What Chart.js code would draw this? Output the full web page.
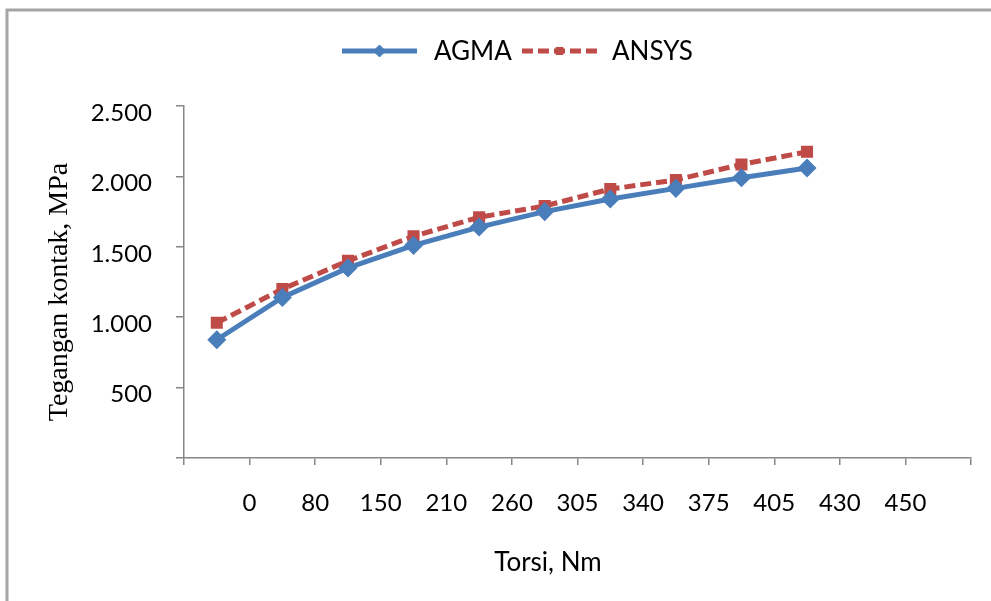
<!DOCTYPE html>
<html>
<head>
<meta charset="utf-8">
<script src="https://cdn.jsdelivr.net/npm/chart.js@4.4.0/dist/chart.umd.min.js"></script>
<style>
  html, body { margin: 0; padding: 0; background: #ffffff; }
  #wrap { position: relative; width: 991px; height: 601px; }
  canvas { display: block; }
</style>
</head>
<body>
<div id="wrap"><canvas id="c" width="991" height="601"></canvas></div>
<script>
// ---- data ----
const xTickLabels = ['0', '80', '150', '210', '260', '305', '340', '375', '405', '430', '450'];
const seriesNames = ['AGMA', 'ANSYS'];
const agma  = [840, 1140, 1350, 1510, 1640, 1750, 1840, 1915, 1990, 2060];
const ansys = [960, 1200, 1400, 1575, 1710, 1790, 1910, 1975, 2085, 2175];
const yTitle = 'Tegangan kontak, MPa';
const xTitle = 'Torsi, Nm';

function fmt(v) {
  if (v === 0) return '';
  if (v >= 1000) return Math.floor(v / 1000) + '.' + String(v % 1000).padStart(3, '0');
  return String(v);
}
const toPts = arr => arr.map((v, i) => ({ x: i + 0.5, y: v }));

const decor = {
  id: 'decor',
  beforeDraw(chart) {
    const ctx = chart.ctx;
    ctx.save();
    ctx.fillStyle = '#ffffff';
    ctx.fillRect(0, 0, chart.width, chart.height);
    ctx.strokeStyle = '#a6a6a6';
    ctx.lineWidth = 3;
    ctx.beginPath();
    ctx.moveTo(7, chart.height);
    ctx.lineTo(7, 10);
    ctx.lineTo(chart.width, 10);
    ctx.stroke();
    ctx.restore();
  },
  afterDraw(chart) {
    const ctx = chart.ctx;
    ctx.save();
    // legend
    const items = [
      { x0: 342, x1: 417, tx: 434 },
      { x0: 522, x1: 597, tx: 612 }
    ];
    const ly = 51;
    chart.data.datasets.forEach((ds, i) => {
      const it = items[i];
      ctx.save();
      ctx.strokeStyle = ds.borderColor;
      ctx.lineWidth = ds.borderWidth;
      ctx.setLineDash(ds.borderDash || []);
      ctx.beginPath();
      ctx.moveTo(it.x0, ly);
      ctx.lineTo(it.x1, ly);
      ctx.stroke();
      ctx.restore();
      ctx.save();
      ctx.fillStyle = ds.pointBackgroundColor;
      ctx.strokeStyle = ds.pointBorderColor;
      ctx.lineWidth = 1;
      Chart.helpers.drawPoint(ctx, { pointStyle: ds.pointStyle, radius: ds.pointRadius, borderWidth: 1, rotation: 0 }, (it.x0 + it.x1) / 2, ly);
      ctx.restore();
      ctx.fillStyle = '#000000';
      ctx.font = '26px Lato';
      ctx.textBaseline = 'middle';
      ctx.textAlign = 'left';
      ctx.fillText(ds.label, it.tx, ly + 1);
    });
    // axis titles
    ctx.fillStyle = '#000000';
    ctx.font = '26px Lato';
    ctx.textAlign = 'center';
    ctx.textBaseline = 'middle';
    ctx.fillText(chart.options.scales.x.title.text, 548, 563);
    ctx.save();
    ctx.translate(60, 292);
    ctx.rotate(-Math.PI / 2);
    ctx.font = '28px "Liberation Serif"';
    ctx.fillText(chart.options.scales.y.title.text, 0, 0);
    ctx.restore();
    ctx.restore();
  }
};

new Chart(document.getElementById('c'), {
  type: 'line',
  data: {
    datasets: [
      {
        label: seriesNames[0],
        data: toPts(agma),
        borderColor: '#4A7EBB',
        backgroundColor: '#4A7EBB',
        pointBackgroundColor: '#4A7EBB',
        pointBorderColor: '#4A7EBB',
        borderWidth: 5,
        pointStyle: 'rectRot',
        pointRadius: 6,
        tension: 0
      },
      {
        label: seriesNames[1],
        data: toPts(ansys),
        borderColor: '#BE4B48',
        backgroundColor: '#BE4B48',
        pointBackgroundColor: '#BE4B48',
        pointBorderColor: '#BE4B48',
        borderWidth: 5,
        borderDash: [11, 5],
        pointStyle: 'rect',
        pointRadius: 5,
        tension: 0
      }
    ]
  },
  options: {
    responsive: false,
    animation: false,
    layout: { padding: { top: 106, right: 20, bottom: 0, left: 0 } },
    plugins: { legend: { display: false }, tooltip: { enabled: false } },
    scales: {
      x: {
        type: 'linear',
        min: 0,
        max: 12,
        afterFit(s) { s.height = 143; s.paddingRight = 0; s.paddingLeft = 0; },
        afterBuildTicks(s) { s.ticks = Array.from({ length: 13 }, (_, i) => ({ value: i })); },
        ticks: {
          autoSkip: false,
          maxRotation: 0,
          padding: 24,
          color: '#000000',
          font: { family: 'Lato', size: 24 },
          callback: (v) => (v >= 1 && v <= xTickLabels.length) ? xTickLabels[v - 1] : ''
        },
        grid: { drawOnChartArea: false, drawTicks: true, tickLength: 7, color: '#868686', lineWidth: 1.5 },
        border: { display: true, color: '#868686', width: 1.5 },
        title: { display: false, text: xTitle }
      },
      y: {
        min: 0,
        max: 2500,
        afterFit(s) { s.width = 184; },
        ticks: {
          stepSize: 500,
          padding: 24,
          labelOffset: 7,
          color: '#000000',
          font: { family: 'Lato', size: 24 },
          callback: (v) => fmt(v)
        },
        grid: { drawOnChartArea: false, drawTicks: true, tickLength: 8, color: '#868686', lineWidth: 1.5 },
        border: { display: true, color: '#868686', width: 1.5 },
        title: { display: false, text: yTitle }
      }
    }
  },
  plugins: [decor]
});
</script>
</body>
</html>
